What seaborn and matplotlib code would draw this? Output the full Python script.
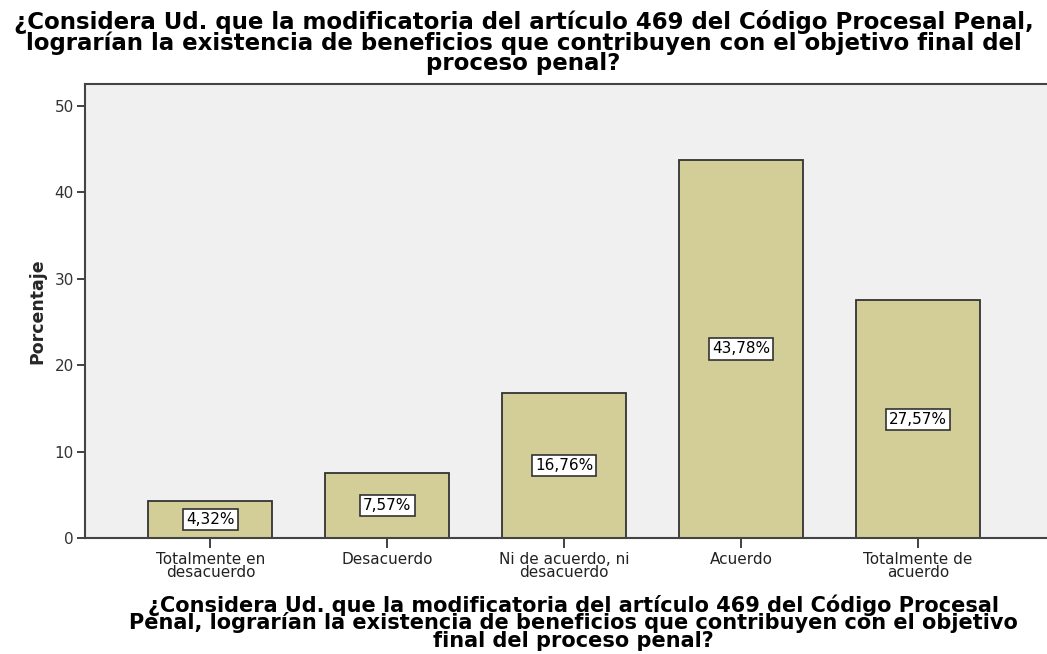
import matplotlib
matplotlib.use("Agg")
import matplotlib.pyplot as plt
import seaborn as sns
import pandas as pd

# datos del gráfico
categorias = ["Totalmente en\ndesacuerdo", "Desacuerdo", "Ni de acuerdo, ni\ndesacuerdo",
              "Acuerdo", "Totalmente de\nacuerdo"]
porcentajes = [4.32, 7.57, 16.76, 43.78, 27.57]
etiquetas = ["4,32%", "7,57%", "16,76%", "43,78%", "27,57%"]
ticks_y = [0, 10, 20, 30, 40, 50]

pregunta = ("¿Considera Ud. que la modificatoria del artículo 469 del Código Procesal Penal,\n"
            "lograrían la existencia de beneficios que contribuyen con el objetivo final del\n"
            "proceso penal?")
pregunta_x = ("¿Considera Ud. que la modificatoria del artículo 469 del Código Procesal\n"
              "Penal, lograrían la existencia de beneficios que contribuyen con el objetivo\n"
              "final del proceso penal?")

sns.set_style("white")
plt.rcParams["font.family"] = ["DejaVu Sans"]

df = pd.DataFrame({"cat": categorias, "pct": porcentajes})

fig = plt.figure(figsize=(10.47, 6.54), dpi=100)
ax = fig.add_axes([0.081, 0.177, 0.919, 0.694])
ax.set_facecolor("#F0F0F0")

sns.barplot(data=df, x="cat", y="pct", ax=ax, color="#D3CE98", saturation=1,
            width=0.7, edgecolor="#333333", linewidth=1.3)

for i, (v, t) in enumerate(zip(porcentajes, etiquetas)):
    ax.text(i, v / 2, t, ha="center", va="center", fontsize=11, color="black",
            bbox=dict(boxstyle="square,pad=0.2", fc="white", ec="#333333", lw=1.2))

ax.set_xlim(-0.71, 4.73)
ax.set_ylim(0, 52.5)
ax.set_yticks(ticks_y)
ax.tick_params(axis="y", length=6, width=1.3, color="#333333", labelsize=11,
               labelcolor="#333333", left=True, pad=2)
ax.tick_params(axis="x", length=7, width=1.3, color="#333333", labelsize=11,
               labelcolor="#222222", bottom=True, pad=3)
for lbl in ax.get_xticklabels():
    lbl.set_linespacing(0.85)

for s in ["left", "top", "bottom"]:
    ax.spines[s].set_color("#444444")
    ax.spines[s].set_linewidth(1.5)
ax.spines["right"].set_visible(False)

ax.set_xlabel("")
ax.set_ylabel("Porcentaje", fontsize=12.5, fontweight="bold", labelpad=6,
              family="Liberation Sans Narrow")
fig.text(0.548, 1 - 594 / 654, pregunta_x, ha="center", va="top", fontsize=15,
         fontweight="bold", linespacing=0.82, color="black")
fig.text(0.5, 1 - 10 / 654, pregunta, ha="center", va="top", fontsize=16.5,
         fontweight="bold", linespacing=0.86, color="black")

fig.savefig("out.png", dpi=100)
